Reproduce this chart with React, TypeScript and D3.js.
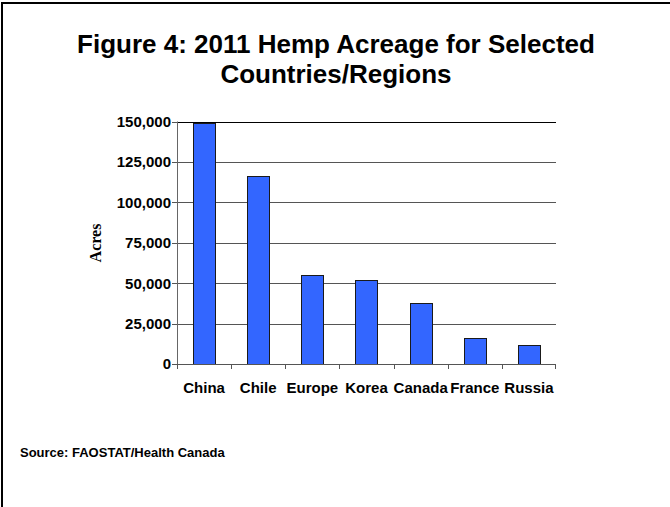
import React from "react";
import * as d3 from "d3";

const categories = ["China", "Chile", "Europe", "Korea", "Canada", "France", "Russia"];
const acres = [149000, 116000, 55000, 52000, 38000, 16000, 12000];
const yTicks = [0, 25000, 50000, 75000, 100000, 125000, 150000];
const titleLines = ["Figure 4: 2011 Hemp Acreage for Selected", "Countries/Regions"];
const sourceText = "Source: FAOSTAT/Health Canada";
const yLabel = "Acres";

const W = 670;
const H = 507;
const left = 177;
const right = 556;
const top = 121.5;
const bottom = 364;

export default function App() {
  const x = d3.scaleBand<string>().domain(categories).range([left, right]).paddingInner(0).paddingOuter(0);
  const y = d3.scaleLinear().domain([0, 150000]).range([bottom, top]);
  const fmt = d3.format(",");
  const bw = x.bandwidth();
  const barW = bw * 0.41;
  const sans = "'Liberation Sans', Arial, sans-serif";

  return (
    <svg width={W} height={H} style={{ position: "absolute", left: 0, top: 0, background: "#fff" }}>
      <rect x={0} y={0} width={W} height={H} fill="#fff" />
      <path d={`M2,${H} V3 H${W}`} fill="none" stroke="#000" strokeWidth={2} />
      {titleLines.map((t, i) => (
        <text key={t} x={336} y={53 + i * 30} textAnchor="middle" fontFamily={sans} fontWeight="bold" fontSize={26} fill="#000">
          {t}
        </text>
      ))}
      {/* gridlines */}
      {yTicks.filter((v) => v > 0 && v < 150000).map((v) => (
        <line key={v} x1={left} x2={right} y1={Math.round(y(v)) + 0.5} y2={Math.round(y(v)) + 0.5} stroke="#555" strokeWidth={1} />
      ))}
      <line x1={left} x2={right} y1={Math.round(y(150000)) + 0.5} y2={Math.round(y(150000)) + 0.5} stroke="#000" strokeWidth={1} />
      {/* bars */}
      {categories.map((c, i) => {
        const bx = (x(c) as number) + (bw - barW) / 2;
        return (
          <rect key={c} x={Math.round(bx) + 0.5} y={Math.round(y(acres[i])) + 0.5} width={Math.round(barW)} height={Math.round(bottom - y(acres[i]))} fill="#3366FF" stroke="#1a1a1a" strokeWidth={1} />
        );
      })}
      {/* y axis */}
      <line x1={left + 0.5} x2={left + 0.5} y1={top} y2={bottom + 4} stroke="#666" strokeWidth={1} />
      {yTicks.map((v) => (
        <g key={v}>
          <line x1={left - 5} x2={left} y1={Math.round(y(v)) + 0.5} y2={Math.round(y(v)) + 0.5} stroke="#555" />
          <text x={171} y={y(v)} dy="0.36em" textAnchor="end" fontFamily={sans} fontWeight="bold" fontSize={15} fill="#000">
            {fmt(v)}
          </text>
        </g>
      ))}
      {/* x axis */}
      <line x1={left} x2={right} y1={bottom + 0.5} y2={bottom + 0.5} stroke="#555" strokeWidth={1} />
      {categories.map((c) => (
        <line key={"t" + c} x1={Math.round(x(c) as number) + 0.5} x2={Math.round(x(c) as number) + 0.5} y1={bottom} y2={bottom + 5} stroke="#555" />
      ))}
      <line x1={right - 0.5} x2={right - 0.5} y1={bottom} y2={bottom + 5} stroke="#555" />
      {categories.map((c) => (
        <text key={"l" + c} x={(x(c) as number) + bw / 2} y={393} textAnchor="middle" fontFamily={sans} fontWeight="bold" fontSize={15} fill="#000">
          {c}
        </text>
      ))}
      <text transform="translate(101,243) rotate(-90)" textAnchor="middle" fontFamily="'Liberation Serif', 'Times New Roman', serif" fontWeight="bold" fontSize={16} fill="#000">
        {yLabel}
      </text>
      <text x={20} y={457} fontFamily={sans} fontWeight="bold" fontSize={13} fill="#000">
        {sourceText}
      </text>
    </svg>
  );
}
